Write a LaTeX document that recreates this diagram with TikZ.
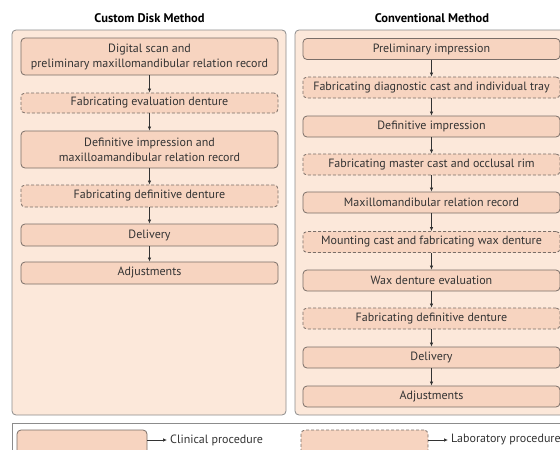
\documentclass[tikz,border=0pt]{standalone}
\usepackage{fontspec}
\setmainfont{PT Sans}
\usetikzlibrary{arrows.meta}
\definecolor{panelfill}{HTML}{FCE8DA}
\definecolor{boxfill}{HTML}{F7D4C0}
\definecolor{boxline}{HTML}{7A6E68}
\definecolor{panelline}{HTML}{8C8C8C}
\definecolor{txt}{HTML}{333333}
\tikzset{
  clinic/.style={draw=boxline, fill=boxfill, rounded corners=4pt, line width=0.8pt,
    minimum width=257pt, minimum height=21pt, align=center, text=txt, inner sep=1pt,
    font=\fontsize{12}{15}\selectfont},
  lab/.style={clinic, dash pattern=on 3pt off 2pt},
  flow/.style={draw=txt, line width=0.7pt, -{Latex[length=4pt,width=3.5pt]}},
  panel/.style={draw=panelline, fill=panelfill, rounded corners=4pt, line width=0.8pt},
  heading/.style={font=\fontsize{12.5}{14}\selectfont\bfseries, text=black},
  legtext/.style={anchor=west, text=txt, font=\fontsize{12}{14}\selectfont, inner sep=0pt}
}
\begin{document}
\begin{tikzpicture}[x=1pt, y=-1pt]
  \clip (0,0) rectangle (560,450);
  \useasboundingbox (0,0) rectangle (560,450);

  % panels
  \draw[panel] (12,30) rectangle (286,415);
  \draw[panel] (295,30) rectangle (569,415);
  \draw[draw=panelline, fill=white, line width=0.8pt] (12,423) rectangle (575,470);

  \node[heading] (hleft) at (149.5,18) {Custom Disk Method};
  \node[heading] (hright) at (432,18) {Conventional Method};

  % custom disk method
  \node[clinic, minimum height=37pt] (l1) at (149.5,56.5) {Digital scan and\\preliminary maxillomandibular relation record};
  \node[lab, minimum height=20pt] (l2) at (149.5,103) {Fabricating evaluation denture};
  \node[clinic, minimum height=37pt] (l3) at (149.5,149.5) {Definitive impression and\\maxilloamandibular relation record};
  \node[lab, minimum height=22pt] (l4) at (149.5,196) {Fabricating definitive denture};
  \node[clinic, minimum height=22pt] (l5) at (149.5,235) {Delivery};
  \node[clinic, minimum height=22pt] (l6) at (149.5,273) {Adjustments};

  \draw[flow] (l1) -- (l2);
  \draw[flow] (l2) -- (l3);
  \draw[flow] (l3) -- (l4);
  \draw[flow] (l4) -- (l5);
  \draw[flow] (l5) -- (l6);

  % conventional method
  \node[clinic] (r1) at (431.5,49) {Preliminary impression};
  \node[lab] (r2) at (431.5,87.5) {Fabricating diagnostic cast and individual tray};
  \node[clinic] (r3) at (431.5,126.5) {Definitive impression};
  \node[lab] (r4) at (431.5,164.5) {Fabricating master cast and occlusal rim};
  \node[clinic] (r5) at (431.5,202.5) {Maxillomandibular relation record};
  \node[lab] (r6) at (431.5,242) {Mounting cast and fabricating wax denture};
  \node[clinic] (r7) at (431.5,280.5) {Wax denture evaluation};
  \node[lab] (r8) at (431.5,318.5) {Fabricating definitive denture};
  \node[clinic] (r9) at (431.5,357.5) {Delivery};
  \node[clinic] (r10) at (431.5,396.5) {Adjustments};

  \foreach \a/\b in {r1/r2, r2/r3, r3/r4, r4/r5, r5/r6, r6/r7, r7/r8, r8/r9, r9/r10}
    \draw[flow] (\a) -- (\b);

  % legend
  \node[clinic, minimum width=130pt, minimum height=24pt] (legclin) at (82,442) {};
  \node[legtext] (legclintxt) at (170,440) {Clinical procedure};
  \draw[flow, shorten >=3pt] (legclin.east |- legclintxt) -- (legclintxt);
  \node[lab, minimum width=127pt, minimum height=24pt] (leglab) at (364.5,442) {};
  \node[legtext] (leglabtxt) at (451,440) {Laboratory procedure};
  \draw[flow, shorten >=3pt] (leglab.east |- leglabtxt) -- (leglabtxt);
\end{tikzpicture}
\end{document}
